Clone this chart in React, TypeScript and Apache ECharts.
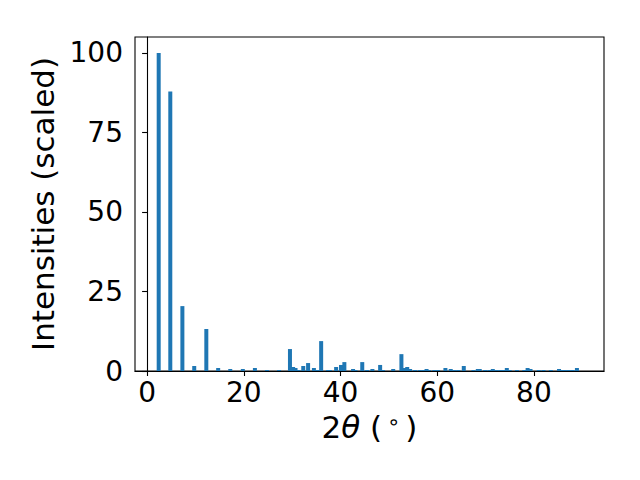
import React, { useEffect, useRef } from "react";
import * as echarts from "echarts";

const twoTheta: number[] = [
  2.4, 4.8, 7.3, 9.75, 12.25, 14.7, 17.2, 19.8, 22.3, 24.8, 27.3,
  29.55, 30.2, 30.7, 31.3, 32.3, 33.3, 34.5, 35.2, 36.0, 37.4, 37.8,
  39.1, 40.1, 40.8, 42.6, 43.1, 44.5, 45.5, 46.6, 48.2, 48.8, 50.9,
  52.6, 53.2, 53.8, 54.4, 55.4, 56.4, 57.2, 57.8, 58.3, 59.4, 60.2,
  61.7, 62.8, 63.6, 64.4, 65.5, 67.5, 68.4, 68.8, 69.9, 70.8, 71.5,
  72.3, 73.1, 73.7, 74.4, 75.0, 76.5, 78.0, 78.7, 79.3, 81.0, 82.0,
  83.5, 85.2, 85.8, 86.4, 87.2, 88.0, 88.9,
];

const intensity: number[] = [
  100, 87.9, 20.4, 1.57, 13.2, 0.94, 0.63, 0.63, 0.94, 0.31, 0.31,
  6.9, 1.26, 0.94, 0.31, 1.57, 2.5, 0.94, 0.31, 9.4, 0.31, 0.31,
  1.26, 1.9, 2.8, 0.63, 0.31, 2.8, 0.31, 0.63, 1.9, 0.31, 0.63,
  5.3, 0.94, 1.26, 0.63, 0.31, 0.31, 0.31, 0.63, 0.31, 0.31, 0.31,
  0.94, 0.63, 0.31, 0.31, 1.57, 0.31, 0.63, 0.63, 0.31, 0.31, 0.63,
  0.31, 0.31, 0.31, 0.94, 0.31, 0.31, 0.31, 0.94, 0.63, 0.31, 0.31,
  0.31, 0.63, 0.31, 0.31, 0.31, 0.31, 0.94,
];

const xTicks: number[] = [0, 20, 40, 60, 80];

const FONT = "DejaVu Sans";

export default function App() {
  const ref = useRef<HTMLDivElement>(null);
  useEffect(() => {
    if (!ref.current) return;
    const chart = echarts.init(ref.current, undefined, { renderer: "svg" });
    const data = twoTheta.map((x, i) => [x, intensity[i]]);
    chart.setOption({
      animation: false,
      backgroundColor: "#ffffff",
      grid: {
        left: 135,
        right: 36,
        top: 37,
        bottom: 109,
        show: true,
        borderColor: "#000000",
        borderWidth: 1.1,
        backgroundColor: "transparent",
      },
      xAxis: {
        type: "value",
        min: -2.5,
        max: 94.5,
        name: "2{it|θ} ({sup|∘})",
        nameLocation: "middle",
        nameGap: 40,
        nameTextStyle: {
          fontFamily: FONT,
          fontSize: 31,
          color: "#000",
          rich: {
            it: { fontFamily: FONT, fontSize: 31, fontStyle: "italic", color: "#000" },
            sup: { fontFamily: FONT, fontSize: 21, color: "#000", verticalAlign: "top", padding: [0, 5, 10, 5] },
          },
        },
        axisLine: { show: true, lineStyle: { color: "#000", width: 1.1 } },
        axisTick: {
          show: true,
          inside: false,
          length: 5,
          lineStyle: { color: "#000", width: 1.1 },
          customValues: xTicks,
        },
        axisLabel: {
          fontFamily: FONT,
          fontSize: 28,
          color: "#000",
          margin: 7,
          customValues: xTicks,
        },
        splitLine: { show: false },
      },
      yAxis: {
        type: "value",
        min: 0,
        max: 105,
        interval: 25,
        name: "Intensities (scaled)",
        nameLocation: "middle",
        nameGap: 76,
        nameTextStyle: { fontFamily: FONT, fontSize: 31, color: "#000" },
        axisLine: { show: true, lineStyle: { color: "#000", width: 1.1 } },
        axisTick: { show: true, inside: false, length: 5, lineStyle: { color: "#000", width: 1.1 } },
        axisLabel: {
          fontFamily: FONT,
          fontSize: 28,
          color: "#000",
          margin: 12,
          showMaxLabel: false,
        },
        splitLine: { show: false },
      },
      series: [
        {
          type: "bar",
          data,
          barWidth: 4,
          itemStyle: { color: "#1f77b4" },
        },
      ],
    });
    return () => chart.dispose();
  }, []);
  return <div ref={ref} style={{ width: 640, height: 480, margin: -8 }} />;
}
